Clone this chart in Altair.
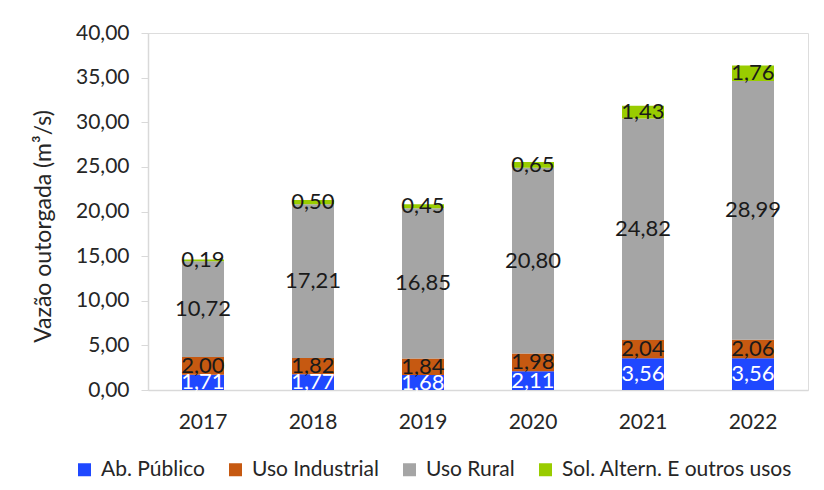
import altair as alt
import pandas as pd

years = ["2017", "2018", "2019", "2020", "2021", "2022"]
categories = ["Ab. Público", "Uso Industrial", "Uso Rural", "Sol. Altern. E outros usos"]
ab_publico = [1.71, 1.77, 1.68, 2.11, 3.56, 3.56]
uso_industrial = [2.00, 1.82, 1.84, 1.98, 2.04, 2.06]
uso_rural = [10.72, 17.21, 16.85, 20.80, 24.82, 28.99]
sol_altern = [0.19, 0.50, 0.45, 0.65, 1.43, 1.76]
colors = ["#1F48FF", "#C65911", "#A5A5A5", "#99CC00"]

series = [ab_publico, uso_industrial, uso_rural, sol_altern]
rows = []
for ci, (cat, vals) in enumerate(zip(categories, series)):
    for y, v in zip(years, vals):
        rows.append({"year": y, "cat": cat, "value": v, "ord": ci})
df = pd.DataFrame(rows)

FONT = "Lato"
FS = 21

base = alt.Chart(df).transform_stack(
    stack="value", groupby=["year"], as_=["y0", "y1"],
    sort=[alt.SortField("ord", order="ascending")]
).transform_calculate(
    mid="(datum.y0 + datum.y1) / 2",
    lbl="replace(format(datum.value, '.2f'), '.', ',')"
)

x_enc = alt.X("year:N", sort=years,
              scale=alt.Scale(paddingInner=0.618, paddingOuter=0.309),
              axis=alt.Axis(title=None, labelAngle=0, ticks=False,
                            domainColor="#d9d9d9", domainWidth=1.5,
                            labelPadding=21, labelFontSize=FS,
                            labelFont=FONT, labelColor="#262626"))

bars = base.mark_bar(size=42).encode(
    x=x_enc,
    y=alt.Y("y0:Q", scale=alt.Scale(domain=[0, 40]),
            axis=alt.Axis(values=[0, 5, 10, 15, 20, 25, 30, 35, 40],
                          labelExpr="replace(format(datum.value, '.2f'), '.', ',')",
                          grid=False, tickSize=7, tickColor="#d9d9d9",
                          domainColor="#d9d9d9", domainWidth=1.5,
                          labelPadding=12, labelFontSize=FS, labelFont=FONT,
                          labelColor="#262626",
                          title="Vazão outorgada (m³/s)", titleFont=FONT,
                          titleFontSize=23, titleFontWeight="normal",
                          titleColor="#262626", titleX=-105, titleY=193,
                          titleAngle=270, titleAlign="center",
                          titleBaseline="middle")),
    y2="y1:Q",
    color=alt.Color("cat:N", scale=alt.Scale(domain=categories, range=colors),
                    sort=categories,
                    legend=alt.Legend(title=None, orient="none",
                                      direction="horizontal",
                                      legendX=-74, legendY=426,
                                      symbolType="square", symbolSize=169,
                                      symbolStrokeWidth=0,
                                      labelFontSize=FS, labelFont=FONT,
                                      labelColor="#262626", labelLimit=0,
                                      labelOffset=6, columnPadding=20)),
)

labels = base.mark_text(fontSize=22, font=FONT, baseline="middle", align="center").encode(
    x=alt.X("year:N", sort=years),
    y=alt.Y("mid:Q"),
    text="lbl:N",
    color=alt.condition("datum.cat == 'Ab. Público'", alt.value("white"), alt.value("#1a1a1a")),
)

chart = alt.layer(bars, labels).properties(
    width=660, height=357,
    autosize=alt.AutoSizeParams(type="none"),
    padding={"left": 148, "top": 33, "right": 16, "bottom": 100},
).configure_view(stroke=None).configure(background="white")

chart.save("out.html", embed_options={"renderer": "svg", "actions": False})
